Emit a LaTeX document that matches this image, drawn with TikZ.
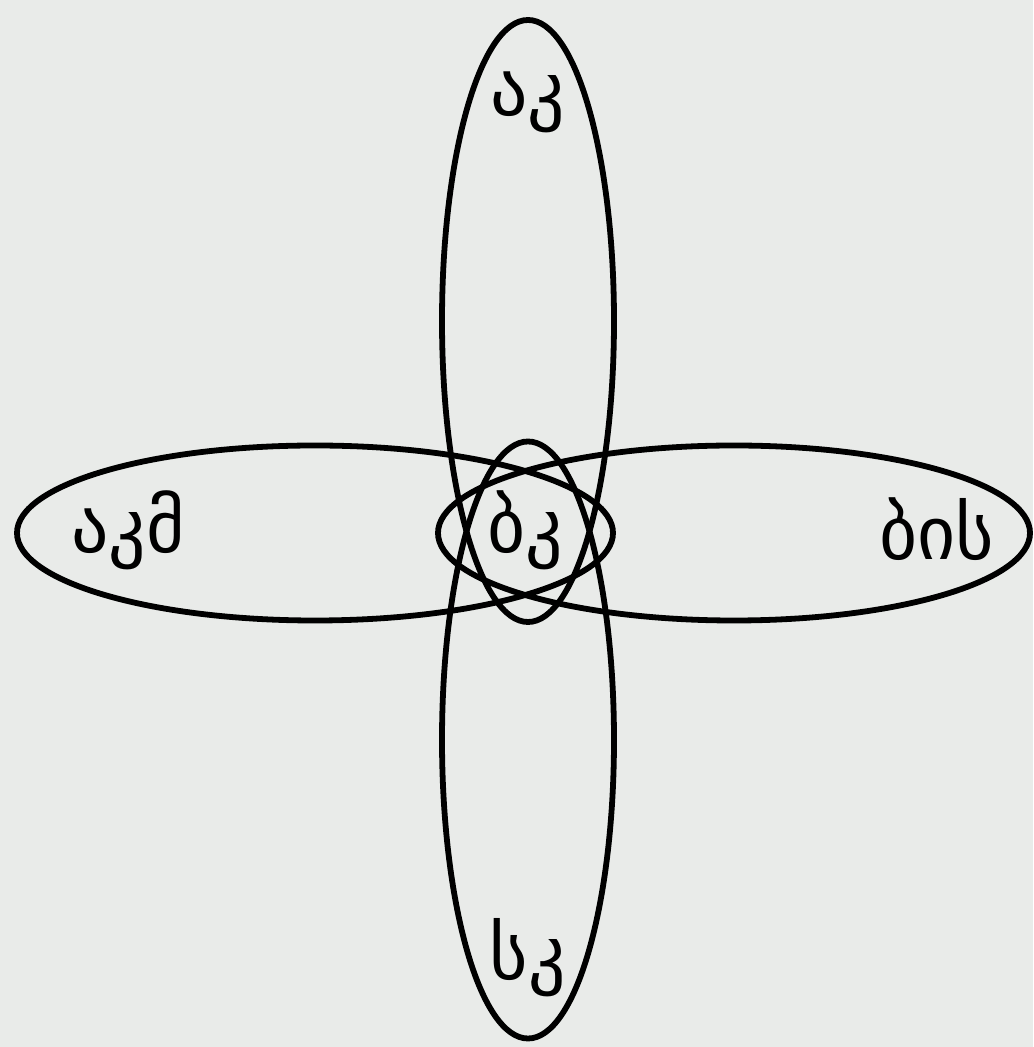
\documentclass[tikz,border=0pt]{standalone}
\usepackage{fontspec}
\newfontfamily\geofont{DejaVu Sans}
\usetikzlibrary{positioning}
\definecolor{PaperGrey}{RGB}{233,235,233}

\begin{document}
\begin{tikzpicture}[every node/.style={font=\geofont\fontsize{42}{48}\selectfont, align=center},
    petal/.style={draw, line width=3.3pt}]
  \fill[PaperGrey] (-10.56,-10.28) rectangle (10.1,10.66);
  % four long ellipses meeting in the middle
  \draw[petal] (0,4.24) ellipse [x radius=1.72, y radius=6.02];
  \draw[petal] (0,-4.14) ellipse [x radius=1.72, y radius=5.97];
  \draw[petal] (-4.26,0) ellipse [x radius=5.96, y radius=1.75];
  \draw[petal] (4.12,0) ellipse [x radius=5.92, y radius=1.75];
  \node (ak) at (0,8.62) {აკ};
  \node (sk) at (0,-8.5) {სკ};
  \node (akm) at (-8.0,0.06) {აკმ};
  \node (bis) at (8.18,0.08) {ბის};
  \node (bk) at (-0.06,0.06) {ბკ};
\end{tikzpicture}
\end{document}
